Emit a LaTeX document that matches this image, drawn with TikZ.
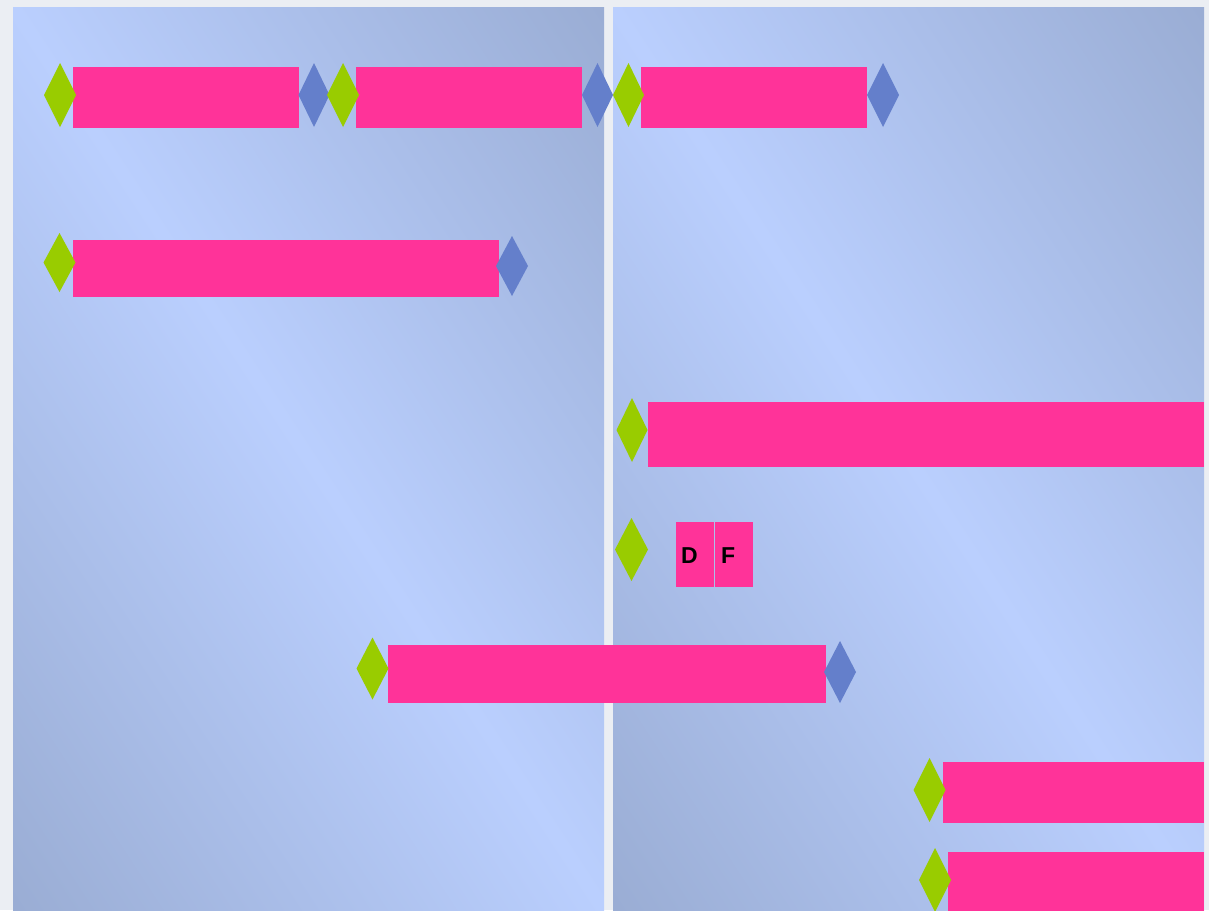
\documentclass[tikz,border=0pt]{standalone}
\usepackage{fontspec}
\setmainfont{Liberation Sans}
\usetikzlibrary{shapes.geometric}
\definecolor{pagebg}{HTML}{EBEEF3}
\definecolor{pdark}{HTML}{9AADD4}
\definecolor{plight}{HTML}{BACFFE}
\definecolor{barpink}{HTML}{FF3399}
\definecolor{dgreen}{HTML}{99CC00}
\definecolor{dblue}{HTML}{647FCB}
\pgfdeclarehorizontalshading{panelshade}{100bp}{color(0bp)=(pdark); color(25bp)=(pdark); color(50bp)=(plight); color(75bp)=(pdark); color(100bp)=(pdark)}
\tikzset{
  bar/.style={rectangle, fill=barpink, draw=none, inner sep=0pt, outer sep=0pt},
  startmark/.style={diamond, fill=dgreen, draw=none, inner sep=0pt, outer sep=0pt, shape aspect=0.5},
  endmark/.style={diamond, fill=dblue, draw=none, inner sep=0pt, outer sep=0pt, shape aspect=0.5},
  lettertext/.style={inner sep=0pt, outer sep=0pt, anchor=base west, font=\fontsize{23}{23}\selectfont\bfseries, text=black}
}
\begin{document}
\begin{tikzpicture}[x=1pt, y=-1pt]
\useasboundingbox (0,0) rectangle (1209,910);
\fill[pagebg] (0,0) rectangle (1209,910);
% panels
\begin{scope}
  \clip (13,7) rectangle (604,910);
  \shade[shading=panelshade, shading angle=33.2] (-186,-36) rectangle (803,953);
\end{scope}
\begin{scope}
  \clip (613,7) rectangle (1204,910);
  \shade[shading=panelshade, shading angle=33.2] (414,-36) rectangle (1403,953);
\end{scope}
% bars
\node[bar, minimum width=226, minimum height=61] (b1a) at (186,97.5) {};
\node[bar, minimum width=226, minimum height=61] (b1b) at (469,97.5) {};
\node[bar, minimum width=226, minimum height=61] (b1c) at (754,97.5) {};
\node[bar, minimum width=426, minimum height=57] (b2) at (286,268.5) {};
\node[bar, minimum width=556, minimum height=65] (b3) at (926,434.5) {};
\node[bar, minimum width=38, minimum height=65] (bD) at (695,554.5) {};
\node[bar, minimum width=38, minimum height=65] (bF) at (734,554.5) {};
\node[bar, minimum width=438.5, minimum height=58] (b5) at (606.75,674) {};
\node[bar, minimum width=261, minimum height=61] (b6) at (1073.5,792.5) {};
\node[bar, minimum width=256, minimum height=61] (b7) at (1076,882.5) {};
% letters
\node[lettertext] (tD) at (681,563.3) {D};
\node[lettertext] (tF) at (721,563.3) {F};
% end markers
\node[endmark, minimum width=31, minimum height=64] (e1a) at (314,95) {};
\node[endmark, minimum width=31, minimum height=64] (e1b) at (597.5,95) {};
\node[endmark, minimum width=32, minimum height=64] (e1c) at (883,95) {};
\node[endmark, minimum width=32, minimum height=60] (e2) at (512,266) {};
\node[endmark, minimum width=32, minimum height=62] (e5) at (840,672) {};
% start markers
\node[startmark, minimum width=32, minimum height=64] (s1a) at (60,95) {};
\node[startmark, minimum width=32, minimum height=64] (s1b) at (343,95) {};
\node[startmark, minimum width=31, minimum height=64] (s1c) at (628.5,95) {};
\node[startmark, minimum width=32, minimum height=59] (s2) at (59.5,262.5) {};
\node[startmark, minimum width=31, minimum height=64] (s3) at (632,430) {};
\node[startmark, minimum width=33, minimum height=63] (s4) at (631.5,549.5) {};
\node[startmark, minimum width=32, minimum height=62] (s5) at (372.5,668.5) {};
\node[startmark, minimum width=32, minimum height=64] (s6) at (929.5,790) {};
\node[startmark, minimum width=32, minimum height=64] (s7) at (935,880) {};
\end{tikzpicture}
\end{document}
